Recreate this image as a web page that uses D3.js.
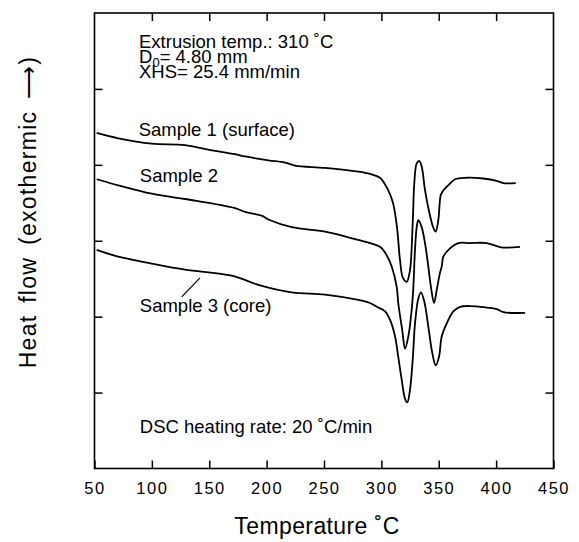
<!DOCTYPE html>
<html>
<head>
<meta charset="utf-8">
<script src="https://cdn.jsdelivr.net/npm/d3@7"></script>
<style>
body { margin: 0; background: #fff; }
svg text { font-family: "Liberation Sans", Arial, Helvetica, sans-serif; fill: #000; }
</style>
</head>
<body>
<div id="chart"></div>
<script>
// DSC traces: temperature (deg C) vs heat flow (arb. units)
var sample1_T = [51.9, 70.7, 99.8, 128.9, 149.2, 172.4, 181.2, 201.5, 216.0, 224.7, 250.9, 279.9, 290.1, 298.8, 305.8, 310.1, 313.6, 316.2, 318.8, 322.1, 324.9, 327.3, 328.7, 330.8, 333.1, 335.1, 338.0, 341.8, 345.3, 347.3, 349.6, 351.7, 353.4, 358.3, 364.2, 374.4, 388.6, 400.5, 406.3, 417.1];
var sample1_H = [4.42, 4.35, 4.28, 4.26, 4.20, 4.14, 4.11, 4.06, 4.03, 3.99, 3.96, 3.91, 3.88, 3.83, 3.67, 3.50, 3.18, 2.75, 2.51, 2.46, 2.61, 3.23, 3.76, 4.02, 4.05, 3.98, 3.67, 3.37, 3.17, 3.12, 3.27, 3.60, 3.65, 3.73, 3.81, 3.83, 3.82, 3.79, 3.76, 3.76];

var sample2_T = [51.9, 70.7, 99.8, 128.9, 172.4, 181.2, 195.7, 201.5, 221.9, 250.9, 279.9, 290.1, 298.8, 304.6, 309.0, 313.4, 314.7, 318.2, 320.6, 323.5, 326.4, 327.8, 329.3, 330.8, 332.2, 335.1, 338.0, 340.9, 343.2, 345.9, 348.2, 351.1, 352.6, 354.0, 359.8, 367.0, 377.2, 391.8, 400.5, 406.3, 420.8];
var sample2_H = [3.81, 3.73, 3.62, 3.55, 3.43, 3.38, 3.33, 3.28, 3.18, 3.12, 3.01, 2.97, 2.92, 2.81, 2.66, 2.39, 2.18, 1.82, 1.58, 1.74, 2.09, 2.37, 2.88, 3.18, 3.27, 3.18, 2.97, 2.66, 2.39, 2.18, 2.35, 2.58, 2.66, 2.79, 2.90, 2.97, 2.97, 2.97, 2.93, 2.91, 2.92];

var sample3_T = [51.9, 70.7, 99.8, 128.9, 169.6, 192.7, 221.9, 250.9, 279.9, 290.1, 295.9, 303.2, 307.5, 311.9, 314.7, 317.7, 320.6, 322.6, 324.9, 327.3, 329.3, 332.2, 334.5, 337.4, 340.9, 344.4, 347.3, 350.2, 352.6, 356.9, 362.7, 368.5, 377.2, 391.8, 400.5, 406.3, 425.2];
var sample3_H = [2.88, 2.79, 2.70, 2.62, 2.54, 2.42, 2.32, 2.29, 2.22, 2.18, 2.13, 2.07, 1.96, 1.74, 1.47, 1.17, 0.92, 0.87, 1.03, 1.43, 1.91, 2.24, 2.32, 2.20, 1.87, 1.52, 1.36, 1.47, 1.74, 1.91, 2.07, 2.13, 2.14, 2.12, 2.10, 2.06, 2.05];

var temp_ticks = [50, 100, 150, 200, 250, 300, 350, 400, 450];
var flow_ticks = [1, 2, 3, 4, 5];

// leader line from the "Sample 3" label to its curve
var leader_T = [126.0, 141.9];
var leader_H = [2.26, 2.51];

var margin = {top: 13, right: 25.5, bottom: 73.5, left: 94.5};
var width = 579 - margin.left - margin.right;
var height = 542 - margin.top - margin.bottom;

var svg = d3.select("#chart")
    .append("svg")
    .attr("width", 579)
    .attr("height", 542);

var g = svg.append("g")
    .attr("transform", "translate(" + margin.left + "," + margin.top + ")");

var x = d3.scaleLinear().domain([50, 450]).range([0, width]);
var y = d3.scaleLinear().domain([0, 6]).range([height, 0]);

// ticks point inward on all four sides
function clean(sel) {
    sel.select(".domain").remove();
    sel.selectAll(".tick line").attr("stroke", "#000").attr("stroke-width", 1.5);
}

g.append("g")
    .attr("transform", "translate(0," + height + ")")
    .call(d3.axisBottom(x).tickValues(temp_ticks).tickSize(-8).tickPadding(14))
    .call(clean)
    .selectAll("text")
    .attr("font-size", 16.5)
    .attr("letter-spacing", 1.5)
    .style("font-family", "'Liberation Sans', Arial, sans-serif");

g.append("g")
    .call(d3.axisTop(x).tickValues(temp_ticks.slice(1, -1)).tickSize(-8).tickFormat(""))
    .call(clean);

g.append("g")
    .call(d3.axisLeft(y).tickValues(flow_ticks).tickSize(-8).tickFormat(""))
    .call(clean);

g.append("g")
    .attr("transform", "translate(" + width + ",0)")
    .call(d3.axisRight(y).tickValues(flow_ticks).tickSize(-8).tickFormat(""))
    .call(clean);

g.append("rect")
    .attr("width", width)
    .attr("height", height)
    .attr("fill", "none")
    .attr("stroke", "#000")
    .attr("stroke-width", 1.6);

var line = d3.line()
    .x(function(d) { return x(d[0]); })
    .y(function(d) { return y(d[1]); })
    .curve(d3.curveCatmullRom.alpha(0.5));

[[sample1_T, sample1_H], [sample2_T, sample2_H], [sample3_T, sample3_H], [leader_T, leader_H]].forEach(function(s, i) {
    g.append("path")
        .datum(d3.zip(s[0], s[1]))
        .attr("fill", "none")
        .attr("stroke", "#000")
        .attr("stroke-width", i == 3 ? 1.2 : 1.8)
        .attr("d", i == 3 ? d3.line().x(function(d) { return x(d[0]); }).y(function(d) { return y(d[1]); }) : line);
});

// annotations
var note = g.append("g").attr("font-size", 18.5);
note.append("text").attr("x", x(88.8)).attr("y", y(5.54)).text("Extrusion temp.: 310 \u02DAC");
var d0 = note.append("text").attr("x", x(88.8)).attr("y", y(5.345));
d0.append("tspan").text("D");
d0.append("tspan").attr("font-size", 13).attr("dy", 4).text("0");
d0.append("tspan").attr("dy", -4).text("= 4.80 mm");
note.append("text").attr("x", x(88.8)).attr("y", y(5.14)).text("XHS= 25.4 mm/min");
note.append("text").attr("x", x(88.5)).attr("y", y(4.386)).text("Sample 1 (surface)");
note.append("text").attr("x", x(89.5)).attr("y", y(3.78)).text("Sample 2");
note.append("text").attr("x", x(89.5)).attr("y", y(2.065)).text("Sample 3 (core)");
note.append("text").attr("x", x(89.5)).attr("y", y(0.474)).text("DSC heating rate: 20 \u02DAC/min");

// axis titles
svg.append("text")
    .attr("x", 317)
    .attr("y", 534)
    .attr("text-anchor", "middle")
    .attr("font-size", 23)
    .attr("letter-spacing", 0.4)
    .text("Temperature \u02DAC");

svg.append("text")
    .attr("transform", "translate(36,212) rotate(-90)")
    .attr("text-anchor", "middle")
    .attr("font-size", 23)
    .attr("letter-spacing", 1.3)
    .attr("word-spacing", 4)
    .text("Heat flow (exothermic \u27F6)");
</script>
</body>
</html>
